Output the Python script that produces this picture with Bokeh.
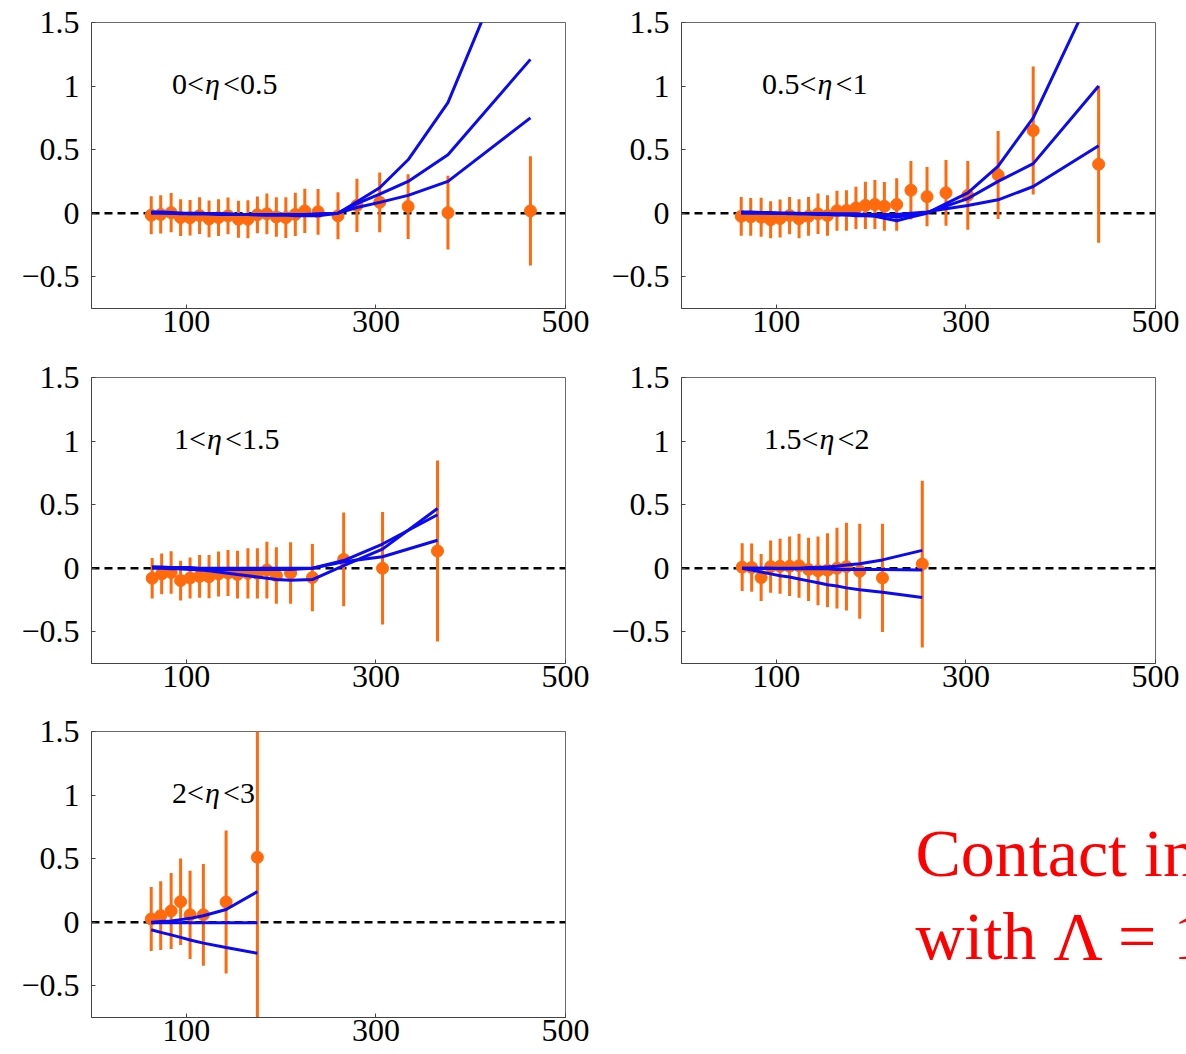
from bokeh.plotting import figure
from bokeh.models import Range1d, FixedTicker, Span, Label, ColumnDataSource
from bokeh.layouts import column, row
from bokeh.embed import file_html
from bokeh.resources import INLINE

# ---------------- data ----------------
x_ticks = [100, 300, 500]
y_ticks = [-0.5, 0, 0.5, 1, 1.5]
y_tick_labels = ["\u22120.5", "0", "0.5", "1", "1.5"]

# panel 1 : 0<eta<0.5
mass_1 = [63, 73, 84, 94, 104, 114, 124, 134, 144, 155, 165, 175, 185, 195, 205, 215, 225, 239, 260, 280, 304, 334, 376, 463]
ratio_1 = [-0.016, -0.01, 0.004, -0.035, -0.036, -0.019, -0.045, -0.035, -0.021, -0.048, -0.048, -0.013, -0.005, -0.03,
           -0.035, -0.01, 0.018, 0.011, -0.021, 0.061, 0.085, 0.052, 0.004, 0.018]
err_1 = [0.15, 0.15, 0.155, 0.145, 0.14, 0.145, 0.145, 0.145, 0.145, 0.145, 0.15, 0.145, 0.16, 0.155, 0.16, 0.17,
         0.175, 0.18, 0.185, 0.21, 0.235, 0.255, 0.29, 0.43]
ci_a_1 = [0.01, 0.01, 0.005, 0.0, 0.0, 0.0, -0.005, -0.005, -0.01, -0.01, -0.01, -0.01, -0.015, -0.015, -0.015, -0.02,
          -0.02, -0.02, 0.0, 0.09, 0.2, 0.42, 0.87, 2.43]
ci_b_1 = [0.005, 0.005, 0.0, 0.0, -0.005, -0.005, -0.005, -0.01, -0.01, -0.01, -0.01, -0.015, -0.015, -0.015, -0.015,
          -0.015, -0.015, -0.01, 0.0, 0.075, 0.15, 0.25, 0.46, 1.21]
ci_c_1 = [0.0, 0.0, 0.0, -0.005, -0.005, -0.005, -0.005, -0.005, -0.005, -0.01, -0.01, -0.01, -0.01, -0.01, -0.01,
          -0.01, -0.01, -0.005, 0.0, 0.045, 0.085, 0.14, 0.25, 0.75]

# panel 2 : 0.5<eta<1
mass_2 = [63, 73, 84, 94, 104, 114, 124, 134, 144, 154, 164, 174, 184, 194, 204, 214, 227, 242, 259, 279, 302, 334, 371, 440]
ratio_2 = [-0.025, -0.029, -0.032, -0.052, -0.042, -0.019, -0.044, -0.025, -0.005, -0.019, 0.019, 0.021, 0.041, 0.061,
           0.068, 0.054, 0.068, 0.18, 0.13, 0.16, 0.14, 0.3, 0.65, 0.385]
err_2 = [0.153, 0.149, 0.154, 0.145, 0.149, 0.146, 0.153, 0.153, 0.159, 0.159, 0.157, 0.159, 0.166, 0.186, 0.192, 0.192,
         0.206, 0.23, 0.233, 0.259, 0.27, 0.346, 0.504, 0.617]
ci_a_2 = [0.01, 0.01, 0.005, 0.005, 0.0, 0.0, -0.005, -0.005, -0.01, -0.01, -0.015, -0.015, -0.02, -0.02, -0.025, -0.04,
          -0.06, -0.03, 0.0, 0.075, 0.16, 0.37, 0.75, 1.84]
ci_b_2 = [0.005, 0.005, 0.005, 0.0, 0.0, 0.0, 0.0, -0.005, -0.005, -0.005, -0.01, -0.01, -0.01, -0.015, -0.015, -0.02,
          -0.03, -0.015, 0.005, 0.055, 0.115, 0.25, 0.39, 1.0]
ci_c_2 = [0.0, 0.0, 0.0, 0.0, 0.0, -0.005, -0.005, -0.005, -0.005, -0.005, -0.005, -0.005, -0.005, -0.01, -0.01, -0.01,
          -0.01, 0.0, 0.01, 0.035, 0.06, 0.105, 0.21, 0.53]

# panel 3 : 1<eta<1.5
mass_3 = [64, 74, 84, 94, 104, 114, 124, 134, 144, 154, 165, 175, 185, 195, 210, 233, 266, 307, 365]
ratio_3 = [-0.079, -0.045, -0.034, -0.098, -0.077, -0.065, -0.067, -0.045, -0.038, -0.05, -0.041, -0.041, -0.015, -0.058,
           -0.038, -0.074, 0.069, -0.001, 0.135]
err_3 = [0.159, 0.161, 0.167, 0.156, 0.161, 0.168, 0.17, 0.177, 0.181, 0.188, 0.197, 0.197, 0.223, 0.222, 0.242, 0.265,
         0.368, 0.443, 0.712]
ci_a_3 = [0.01, 0.005, 0.0, -0.005, -0.01, -0.015, -0.02, -0.03, -0.04, -0.05, -0.06, -0.07, -0.08, -0.09, -0.095,
          -0.09, 0.02, 0.15, 0.47]
ci_b_3 = [0.01, 0.01, 0.005, 0.005, 0.005, 0.0, 0.0, 0.0, 0.0, 0.0, 0.0, 0.0, 0.0, 0.0, 0.0, 0.0, 0.06, 0.19, 0.42]
ci_c_3 = [0.0, 0.0, -0.005, -0.005, -0.005, -0.01, -0.01, -0.01, -0.01, -0.01, -0.01, -0.01, -0.01, -0.01, -0.01,
          0.0, 0.05, 0.09, 0.22]

# panel 4 : 1.5<eta<2
mass_4 = [64, 74, 84, 94, 104, 114, 124, 134, 144, 154, 164, 174, 188, 212, 254]
ratio_4 = [0.008, 0.005, -0.074, 0.012, 0.015, 0.015, 0.019, -0.01, -0.021, -0.016, 0.0, 0.012, -0.024, -0.077, 0.032]
err_4 = [0.188, 0.19, 0.185, 0.205, 0.216, 0.234, 0.251, 0.249, 0.27, 0.291, 0.317, 0.345, 0.373, 0.426, 0.656]
ci_a_4 = [0.0, 0.0, 0.0, 0.0, 0.0, 0.0, 0.0, 0.005, 0.005, 0.01, 0.015, 0.025, 0.035, 0.065, 0.14]
ci_b_4 = [0.0, 0.0, 0.0, 0.0, -0.005, -0.005, -0.005, -0.005, -0.005, -0.005, -0.01, -0.01, -0.01, -0.01, -0.015]
ci_c_4 = [0.0, -0.015, -0.03, -0.045, -0.06, -0.07, -0.085, -0.1, -0.115, -0.13, -0.14, -0.155, -0.17, -0.19, -0.23]

# panel 5 : 2<eta<3
mass_5 = [63, 73, 84, 94, 104, 118, 142, 175]
ratio_5 = [0.025, 0.051, 0.088, 0.161, 0.058, 0.058, 0.159, 0.51]
err_5 = [0.251, 0.27, 0.299, 0.34, 0.347, 0.4, 0.562, 1.5]
ci_a_5 = [0.0, 0.005, 0.01, 0.02, 0.03, 0.05, 0.1, 0.24]
ci_b_5 = [-0.005, -0.005, -0.005, -0.005, -0.005, -0.005, -0.005, -0.005]
ci_c_5 = [-0.06, -0.08, -0.1, -0.12, -0.14, -0.165, -0.2, -0.245]

labels = [("0<", "\u03b7", "<0.5"), ("0.5<", "\u03b7", "<1"), ("1<", "\u03b7", "<1.5"),
          ("1.5<", "\u03b7", "<2"), ("2<", "\u03b7", "<3")]
# the note is cut by the right edge of the original picture; only its visible part is kept
note_lines = ["Contact in", "with \u039b = 1"]

# ---------------- style ----------------
FONT = "Liberation Serif"
ORANGE = "#ff6a0d"
BLUE = "#0a0af5"
FRAME_W, FRAME_H = 474, 286
BORDER_L, BORDER_T = 91, 22
CHAR_W = {"0": 15, "1": 15, "2": 15, "3": 15, "5": 15, ".": 7.5, "<": 17}


def make_panel(x, y, err, a, b, c, label, width, height, label_x):
    p = figure(width=width, height=height, x_range=Range1d(0, 500), y_range=Range1d(-0.75, 1.5),
               output_backend="svg", toolbar_location=None,
               min_border_left=BORDER_L, min_border_right=width - BORDER_L - FRAME_W,
               min_border_top=BORDER_T, min_border_bottom=height - BORDER_T - FRAME_H)
    p.grid.visible = False
    p.outline_line_color = "#6a6a6a"
    p.outline_line_width = 1
    p.background_fill_color = "white"
    p.border_fill_color = "white"

    for ax in (p.xaxis[0], p.yaxis[0]):
        ax.axis_line_color = "#444444"
        ax.major_tick_in = 4
        ax.major_tick_out = 0
        ax.minor_tick_in = 0
        ax.minor_tick_out = 0
        ax.major_tick_line_color = "#444444"
        ax.major_label_text_font = FONT
        ax.major_label_text_font_size = "32px"
        ax.major_label_text_color = "black"
    p.xaxis.ticker = FixedTicker(ticks=x_ticks)
    p.xaxis.major_label_standoff = 2
    p.yaxis.ticker = FixedTicker(ticks=y_ticks)
    p.yaxis.major_label_overrides = {float(v): s for v, s in zip(y_ticks, y_tick_labels)}
    p.yaxis.major_label_standoff = 12

    p.add_layout(Span(location=0, dimension="width", line_color="black", line_width=2.5,
                      line_dash="8 5", level="underlay"))

    src = ColumnDataSource(dict(x=x, y=y, lo=[v - e for v, e in zip(y, err)], hi=[v + e for v, e in zip(y, err)]))
    p.segment(x0="x", y0="lo", x1="x", y1="hi", source=src, line_color=ORANGE, line_width=3)
    p.scatter(x="x", y="y", source=src, size=12, fill_color=ORANGE, line_color=ORANGE)

    for curve in (a, b, c):
        p.line(x, curve, line_color=BLUE, line_width=3)

    pre, eta, post = label
    w_pre = sum(CHAR_W[ch] for ch in pre)
    common = dict(x=label_x, y=1.02, text_font=FONT, text_font_size="30px", text_baseline="middle",
                  text_color="black")
    p.add_layout(Label(text=pre, x_offset=0, **common))
    p.add_layout(Label(text=eta, x_offset=w_pre + 1, text_font_style="italic", **common))
    p.add_layout(Label(text=post, x_offset=w_pre + 19, **common))
    return p


W1, W2 = 590, 596
H1, H2, H3 = 355, 354, 345

p1 = make_panel(mass_1, ratio_1, err_1, ci_a_1, ci_b_1, ci_c_1, labels[0], W1, H1, 85)
p2 = make_panel(mass_2, ratio_2, err_2, ci_a_2, ci_b_2, ci_c_2, labels[1], W2, H1, 85)
p3 = make_panel(mass_3, ratio_3, err_3, ci_a_3, ci_b_3, ci_c_3, labels[2], W1, H2, 87)
p4 = make_panel(mass_4, ratio_4, err_4, ci_a_4, ci_b_4, ci_c_4, labels[3], W2, H2, 87)
p5 = make_panel(mass_5, ratio_5, err_5, ci_a_5, ci_b_5, ci_c_5, labels[4], W1, H3, 85)

# note panel: its frame has the same height as the panels' frames, ranges in pixels of that frame
p6 = figure(width=W2, height=H3, x_range=Range1d(0, W2), y_range=Range1d(0, FRAME_H),
            output_backend="svg", toolbar_location=None, x_axis_location=None, y_axis_location=None,
            min_border_left=0, min_border_right=0, min_border_top=BORDER_T,
            min_border_bottom=H3 - BORDER_T - FRAME_H)
p6.grid.visible = False
p6.outline_line_color = None
for i, line in enumerate(note_lines):
    p6.add_layout(Label(text=line, x=325, y=165 - 83 * i,
                        text_font=FONT, text_font_size="68px", text_color="#ff0000",
                        text_baseline="alphabetic"))

layout = column(row(p1, p2), row(p3, p4), row(p5, p6))

open("out.html", "w").write(file_html(layout, INLINE))
